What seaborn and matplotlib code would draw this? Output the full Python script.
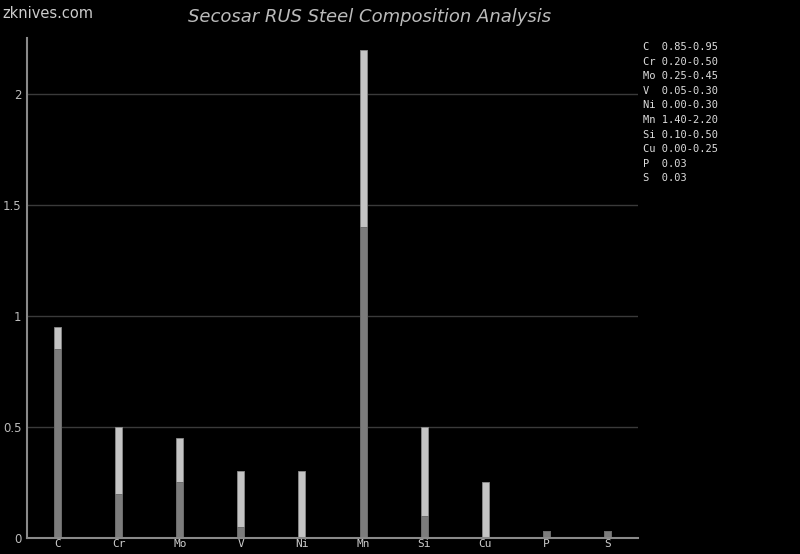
import matplotlib
matplotlib.use("Agg")
import matplotlib.pyplot as plt
import seaborn as sns
import pandas as pd

elements = ["C", "Cr", "Mo", "V", "Ni", "Mn", "Si", "Cu", "P", "S"]
min_vals = [0.85, 0.20, 0.25, 0.05, 0.00, 1.40, 0.10, 0.00, 0.03, 0.03]
max_vals = [0.95, 0.50, 0.45, 0.30, 0.30, 2.20, 0.50, 0.25, 0.03, 0.03]
legend_lines = ["C  0.85-0.95", "Cr 0.20-0.50", "Mo 0.25-0.45", "V  0.05-0.30",
                "Ni 0.00-0.30", "Mn 1.40-2.20", "Si 0.10-0.50", "Cu 0.00-0.25",
                "P  0.03", "S  0.03"]
yticks = [0, 0.5, 1, 1.5, 2]
ytick_labels = ["0", "0.5", "1", "1.5", "2"]

df = pd.DataFrame({"el": elements, "lo": min_vals, "hi": max_vals})

sns.set_style("dark")
fig = plt.figure(figsize=(8, 5.54), dpi=100, facecolor="black")
ax = fig.add_axes([27/800, 16/554, 611/800, 500/554])
ax.set_facecolor("black")

sns.barplot(data=df, x="el", y="hi", color="#c4c4c4", width=0.115, saturation=1,
            edgecolor="#8a8a8a", linewidth=0.6, ax=ax)
sns.barplot(data=df, x="el", y="lo", color="#7c7c7c", width=0.115, saturation=1,
            edgecolor="#666666", linewidth=0.6, ax=ax)

ax.set_xlim(-0.5, 9.5)
ax.set_ylim(0, 2.252)
ax.set_yticks(yticks)
ax.set_yticklabels(ytick_labels)
ax.set_xlabel("")
ax.set_ylabel("")
ax.grid(False)
for y in yticks[1:]:
    ax.axhline(y, color="#3a3a3a", lw=1, zorder=0)

for s in ["top", "right"]:
    ax.spines[s].set_visible(False)
for s in ["left", "bottom"]:
    ax.spines[s].set_visible(True)
    ax.spines[s].set_color("#8a8a8a")
    ax.spines[s].set_linewidth(1.5)

ax.tick_params(axis="y", length=0, pad=4)
ax.tick_params(axis="x", length=0, pad=1)
for lab in ax.get_xticklabels():
    lab.set_family("DejaVu Sans Mono")
    lab.set_fontsize(8)
    lab.set_color("#cccccc")
for lab in ax.get_yticklabels():
    lab.set_family("DejaVu Sans")
    lab.set_fontsize(8.5)
    lab.set_color("#bbbbbb")

fig.text(370/800, 1 - 17/554, "Secosar RUS Steel Composition Analysis",
         ha="center", va="center", fontsize=13, style="italic", color="#bbbbbb",
         family="DejaVu Sans")
fig.text(2/800, 1 - 14/554, "zknives.com", ha="left", va="center",
         fontsize=10.5, color="#cccccc", family="DejaVu Sans")

for i, line in enumerate(legend_lines):
    fig.text(643/800, 1 - (47 + i*14.6)/554, line, ha="left", va="center",
             fontsize=7.5, color="#dddddd", family="DejaVu Sans Mono")

fig.savefig("out.png", dpi=100, facecolor="black")
